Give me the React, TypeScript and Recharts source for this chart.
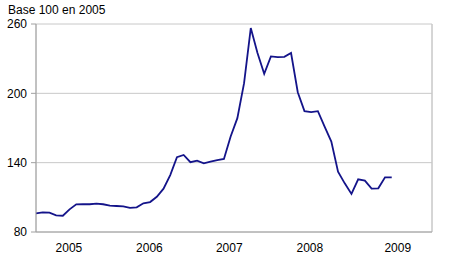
import { LineChart, Line, XAxis, YAxis, CartesianGrid, ReferenceLine } from 'recharts'

// Monthly index, Jan 2005 .. Jun 2009 (base 100 in 2005)
const values = [
  96.1, 97.0, 96.7, 94.4, 94.1, 99.6, 104.0, 104.2, 104.0, 104.5, 104.0, 102.8,
  102.5, 102.2, 100.8, 101.3, 104.8, 105.9, 110.5, 117.5, 129.3, 144.7, 146.7, 140.4,
  141.8, 139.4, 140.8, 142.3, 143.2, 162.6, 178.5, 208.8, 256.5, 234.9, 216.9, 231.9,
  231.4, 231.6, 234.9, 201.0, 184.6, 183.7, 184.6, 171.2, 158.2, 132.2, 122.1, 112.9,
  125.6, 124.4, 117.5, 117.8, 127.3, 127.3,
]
const years = ['2005', '2006', '2007', '2008', '2009']
const yearStarts = [0, 12, 24, 36, 48]
const yearLabelAt = [4.9, 16.9, 28.8, 40.8, 53.9]
const yTicks = [80, 140, 200, 260]
const lastMonth = 59

const data = values.map((v, i) => ({ i, v }))

const FONT = '"Liberation Sans", Arial, sans-serif'
const GRID = '#c8c8c8'
const AXIS = '#a0a0a0'

export default function App() {
  return (
    <div style={{ position: 'absolute', left: 0, top: 0, width: 450, height: 279, background: '#fff', fontFamily: FONT }}>
      <div style={{ position: 'absolute', left: 8, top: 3, fontSize: 12, color: '#000' }}>Base 100 en 2005</div>
      <LineChart width={450} height={279} data={data} margin={{ top: 24, right: 18, bottom: 17, left: 0 }}>
        <CartesianGrid stroke={GRID} />
        <XAxis
          dataKey="i"
          type="number"
          domain={[0, lastMonth]}
          ticks={yearStarts}
          tick={false}
          tickSize={5}
          height={6}
          stroke={AXIS}
        />
        <XAxis
          xAxisId="lab"
          dataKey="i"
          type="number"
          domain={[0, lastMonth]}
          ticks={yearLabelAt}
          tickFormatter={(t: number) => years[yearLabelAt.indexOf(t)]}
          axisLine={false}
          tickLine={false}
          tickSize={0}
          tickMargin={5}
          height={24}
          tick={{ fontSize: 12, fill: '#000', fontFamily: FONT }}
          interval={0}
        />
        <YAxis
          domain={[80, 260]}
          ticks={yTicks}
          width={36}
          tickSize={5}
          tickMargin={4}
          stroke={AXIS}
          tick={{ fontSize: 12, fill: '#000', fontFamily: FONT }}
          interval={0}
        />
        <ReferenceLine x={lastMonth} stroke={GRID} />
        <Line
          dataKey="v"
          stroke="#14148a"
          strokeWidth={1.8}
          dot={false}
          isAnimationActive={false}
        />
      </LineChart>
    </div>
  )
}
